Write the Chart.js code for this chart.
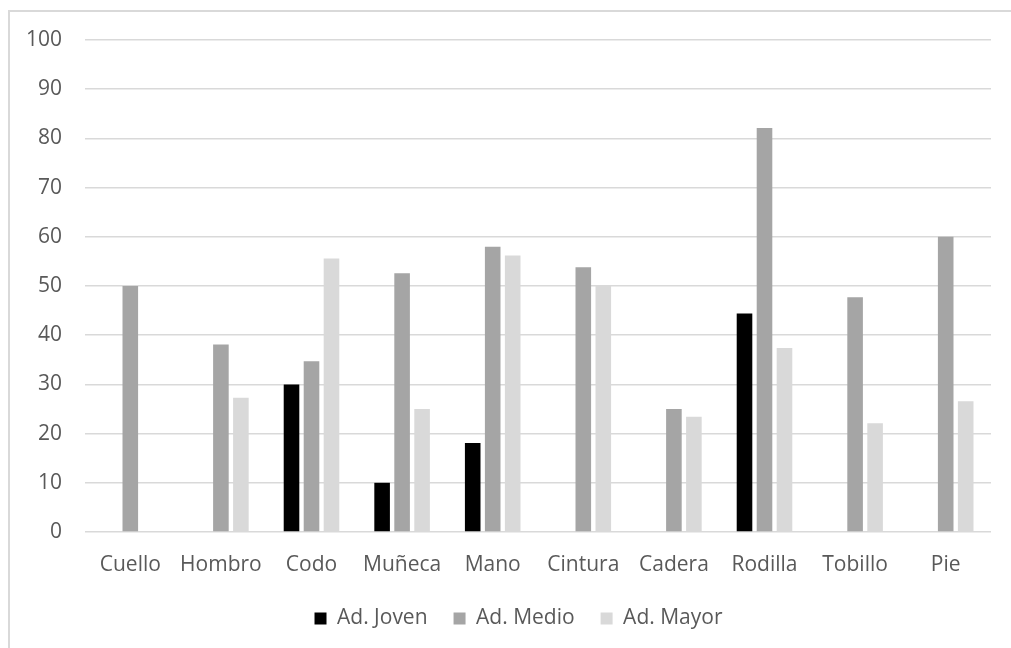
<!DOCTYPE html>
<html>
<head>
<meta charset="utf-8">
<script src="https://cdn.jsdelivr.net/npm/chart.js@4.4.0/dist/chart.umd.min.js"></script>
<style>
  html, body { margin: 0; padding: 0; background: #fff; }
  #marco { position: absolute; left: 8px; top: 10px; width: 1010px; height: 645px;
           border-left: 2px solid #d9d9d9; border-top: 2px solid #d9d9d9; }
  #grafico { position: absolute; left: 0; top: 0; }
</style>
</head>
<body>
<div id="marco"></div>
<canvas id="grafico" width="1011" height="648"></canvas>
<script>
// datos
const partes = ['Cuello', 'Hombro', 'Codo', 'Muñeca', 'Mano', 'Cintura', 'Cadera', 'Rodilla', 'Tobillo', 'Pie'];
const adJoven = [0, 0, 30, 10, 18.1, 0, 0, 44.4, 0, 0];
const adMedio = [50, 38.1, 34.7, 52.6, 58, 53.8, 25, 82.1, 47.7, 60];
const adMayor = [0, 27.3, 55.6, 25, 56.2, 50, 23.4, 37.4, 22.1, 26.6];
const ticksY = [0, 10, 20, 30, 40, 50, 60, 70, 80, 90, 100];

const gris = '#595959';
const fuente = { family: '"Open Sans", sans-serif', size: 21 };

// la leyenda va algo desplazada a la derecha, como en el original
const moverLeyenda = {
  id: 'moverLeyenda',
  afterLayout(chart) {
    const l = chart.legend;
    l.left += 23; l.right += 23;
    l.top += 2; l.bottom += 2;
  }
};

new Chart(document.getElementById('grafico'), {
  type: 'bar',
  data: {
    labels: partes,
    datasets: [
      { label: 'Ad. Joven', data: adJoven, backgroundColor: '#000000' },
      { label: 'Ad. Medio', data: adMedio, backgroundColor: '#A5A5A5' },
      { label: 'Ad. Mayor', data: adMayor, backgroundColor: '#D9D9D9' }
    ]
  },
  plugins: [moverLeyenda],
  options: {
    responsive: false,
    animation: false,
    categoryPercentage: 0.662,
    barPercentage: 0.78,
    layout: { padding: { top: 40, right: 20, bottom: 11, left: 0 } },
    plugins: {
      tooltip: { enabled: false },
      legend: {
        position: 'bottom',
        labels: { color: gris, font: fuente, boxWidth: 12, boxHeight: 12, padding: 26 }
      }
    },
    scales: {
      x: {
        grid: { display: false },
        border: { display: false },
        ticks: { color: gris, font: fuente, padding: 12, maxRotation: 0 },
        afterFit: s => { s.height = 48; }
      },
      y: {
        min: 0,
        max: 100,
        afterBuildTicks: s => { s.ticks = ticksY.map(v => ({ value: v })); },
        grid: { color: '#D9D9D9', lineWidth: 1.5, drawTicks: false },
        border: { display: false },
        ticks: { color: gris, font: fuente, padding: 23 },
        afterFit: s => { s.width = 85; }
      }
    }
  }
});
</script>
</body>
</html>
